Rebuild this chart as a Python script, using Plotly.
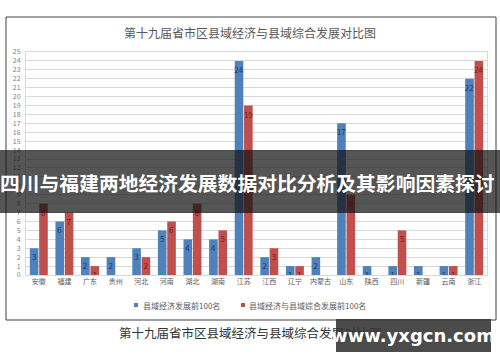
import plotly.graph_objects as go

categories = ["安徽", "福建", "广东", "贵州", "河北", "河南", "湖北", "湖南", "江苏",
              "江西", "辽宁", "内蒙古", "山东", "陕西", "四川", "新疆", "云南", "浙江"]
econ_top100 = [3, 6, 2, 2, 3, 5, 4, 4, 24, 2, 1, 2, 17, 1, 1, 1, 1, 22]
combined_top100 = [8, 7, 1, None, 2, 6, 8, 5, 19, 3, 1, None, 9, None, 5, None, 1, 24]
series_names = ["县域经济发展前100名", "县域经济与县域综合发展前100名"]
series_colors = ["#4f81bd", "#c0504d"]
chart_title = "第十九届省市区县域经济与县域综合发展对比图"
overlay_title = "四川与福建两地经济发展数据对比分析及其影响因素探讨"
caption = "第十九届省市区县域经济与县域综合发展对比图"
watermark = "www.yxgcn.com"

FONT = "Noto Sans CJK SC"
W, H = 500, 362
L, R, T, B = 26, 487, 52, 275  # plot area in pixels


def px(x):
    return (x - L) / (R - L)


def py(y):
    return (B - y) / (B - T)


fig = go.Figure()
fig.add_trace(go.Bar(
    x=categories, y=econ_top100, name=series_names[0],
    marker=dict(color=series_colors[0], line=dict(width=0)),
    text=[str(v) if v else "" for v in econ_top100],
    textposition="inside", insidetextanchor="end", textangle=0,
    textfont=dict(size=8, color="#1f3a5f", family=FONT),
    showlegend=False,
))
fig.add_trace(go.Bar(
    x=categories, y=combined_top100, name=series_names[1],
    marker=dict(color=series_colors[1], line=dict(width=0)),
    text=[str(v) if v else "" for v in combined_top100],
    textposition="inside", insidetextanchor="end", textangle=0,
    textfont=dict(size=8, color="#6e2220", family=FONT),
    showlegend=False,
))

fig.update_layout(
    width=W, height=H,
    margin=dict(l=L, r=W - R, t=T, b=H - B, autoexpand=False),
    paper_bgcolor="white", plot_bgcolor="white",
    barmode="group", bargap=0.27, bargroupgap=0.08,
    uniformtext=dict(minsize=8, mode="show"),
    font=dict(family=FONT, color="#595959"),
    showlegend=False,
    xaxis=dict(showgrid=False, showline=True, linecolor="#d9d9d9", mirror=True,
               ticks="", tickfont=dict(size=7, color="#595959", family=FONT)),
    yaxis=dict(range=[0, 25], dtick=1, showgrid=True, gridcolor="#d9d9d9", gridwidth=1,
               showline=True, linecolor="#d9d9d9", mirror=True, zeroline=False,
               ticks="", ticklabelstandoff=3,
               tickfont=dict(size=7, color="#7f7f7f", family=FONT)),
)

shapes = [
    # outer chart frame
    dict(type="rect", xref="paper", yref="paper", x0=px(6), x1=px(496), y0=py(17), y1=py(320),
         line=dict(color="#404040", width=1), fillcolor="rgba(0,0,0,0)", layer="below"),
    # legend markers
    dict(type="rect", xref="paper", yref="paper", x0=px(134), x1=px(138), y0=py(307), y1=py(303),
         line=dict(width=0), fillcolor=series_colors[0]),
    dict(type="rect", xref="paper", yref="paper", x0=px(241), x1=px(245), y0=py(307), y1=py(303),
         line=dict(width=0), fillcolor=series_colors[1]),
    # dark overlay band
    dict(type="rect", xref="paper", yref="paper", x0=px(0), x1=px(500), y0=py(150), y1=py(213),
         line=dict(width=0), fillcolor="rgba(20,20,20,0.72)", layer="above"),
    # watermark box
    dict(type="rect", xref="paper", yref="paper", x0=px(336), x1=px(491), y0=py(319), y1=py(352),
         line=dict(width=0), fillcolor="rgba(60,60,60,0.92)", layer="above"),
]
fig.update_layout(shapes=shapes)

annotations = [
    dict(text=chart_title, xref="paper", yref="paper", x=px(250), y=py(33),
         xanchor="center", yanchor="middle", showarrow=False,
         font=dict(size=12, color="#595959", family=FONT)),
    dict(text=series_names[0], xref="paper", yref="paper", x=px(141), y=py(305),
         xanchor="left", yanchor="middle", showarrow=False,
         font=dict(size=8, color="#595959", family=FONT)),
    dict(text=series_names[1], xref="paper", yref="paper", x=px(247), y=py(305),
         xanchor="left", yanchor="middle", showarrow=False,
         font=dict(size=8, color="#595959", family=FONT)),
    dict(text=caption, xref="paper", yref="paper", x=px(117), y=py(333),
         xanchor="left", yanchor="middle", showarrow=False,
         font=dict(size=12.5, color="#333333", family=FONT)),
    dict(text="<b>" + overlay_title + "</b>", xref="paper", yref="paper", x=px(247), y=py(182),
         xanchor="center", yanchor="middle", showarrow=False,
         font=dict(size=19.8, color="white", family=FONT)),
    dict(text="<b>" + watermark + "</b>", xref="paper", yref="paper", x=px(413), y=py(335),
         xanchor="center", yanchor="middle", showarrow=False,
         font=dict(size=18, color="white", family="DejaVu Sans")),
]
fig.update_layout(annotations=annotations)

fig.write_html("out.html", config={"displayModeBar": False},
               post_script="document.body.style.margin='0';")
